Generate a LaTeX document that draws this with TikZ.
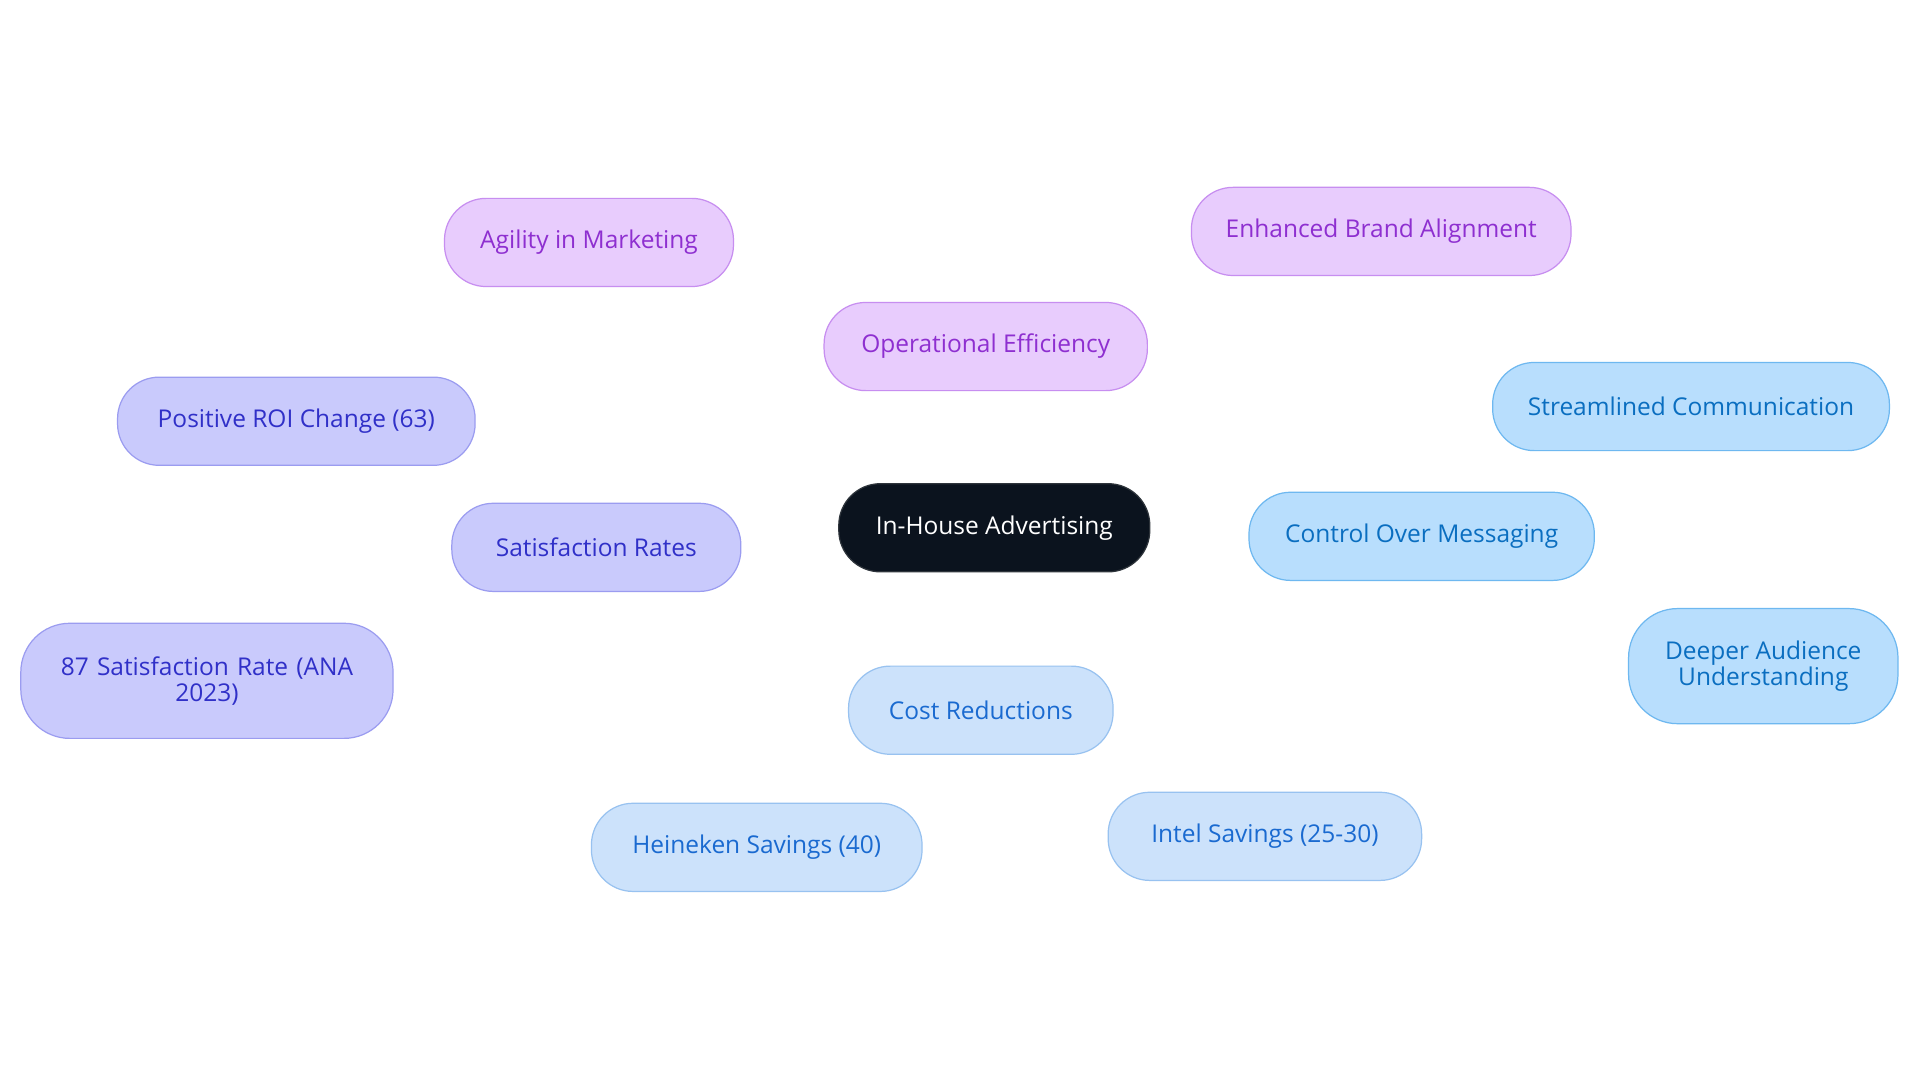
\documentclass[tikz,border=0pt]{standalone}
\usepackage{fontspec}
\setmainfont{Open Sans}
\usetikzlibrary{backgrounds}
\definecolor{rootf}{HTML}{0B131E}
\definecolor{pf}{HTML}{E8CCFD}\definecolor{pd}{HTML}{C78EF0}\definecolor{pt}{HTML}{8E2FD0}
\definecolor{vf}{HTML}{C9CAFC}\definecolor{vd}{HTML}{9B9CF0}\definecolor{vt}{HTML}{3030C8}
\definecolor{bf}{HTML}{B8DEFD}\definecolor{bd}{HTML}{6EB8F0}\definecolor{bt}{HTML}{0A6EC0}
\definecolor{lf}{HTML}{CCE2FB}\definecolor{ld}{HTML}{98C2F0}\definecolor{lt}{HTML}{1A6AD0}
\tikzset{
 box/.style={rounded corners=17pt,minimum height=36pt,font=\fontsize{10}{10.5}\selectfont,align=center,inner sep=2pt,line width=0.5pt},
 rootbox/.style={box,fill=rootf,draw=rootf!70!gray,text=white},
 pbox/.style={box,fill=pf,draw=pd,text=pt},
 vbox/.style={box,fill=vf,draw=vd,text=vt},
 bbox/.style={box,fill=bf,draw=bd,text=bt},
 lbox/.style={box,fill=lf,draw=ld,text=lt},
 edge/.style={line width=1.3pt}
}
\begin{document}
\begin{tikzpicture}[x=0.5pt,y=-0.5pt]
\useasboundingbox[fill=white] (0,0) rectangle (1568,884);
\node[rootbox,minimum width=127pt] (root) at (812,431) {In-House Advertising};
\node[pbox,minimum width=132pt] (op) at (805,283) {Operational Efficiency};
\node[pbox,minimum width=118pt] (ag) at (481,198) {Agility in Marketing};
\node[pbox,minimum width=155pt] (en) at (1128,189) {Enhanced Brand Alignment};
\node[vbox,minimum width=118pt] (sat) at (487,447) {Satisfaction Rates};
\node[vbox,minimum width=146pt] (roi) at (242,344) {Positive ROI Change (63)};
\node[vbox,minimum width=152pt,minimum height=47pt,text width=140pt,rounded corners=20pt] (ana) at (169,556) {87 Satisfaction Rate (ANA\\2023)};
\node[bbox,minimum width=141pt] (ctl) at (1161,438) {Control Over Messaging};
\node[bbox,minimum width=162pt] (str) at (1381,332) {Streamlined Communication};
\node[bbox,minimum width=110pt,minimum height=47pt,rounded corners=20pt] (dee) at (1440,544) {Deeper Audience\\Understanding};
\node[lbox,minimum width=108pt] (cost) at (801,580) {Cost Reductions};
\node[lbox,minimum width=135pt] (hei) at (618,692) {Heineken Savings (40)};
\node[lbox,minimum width=128pt] (int) at (1033,683) {Intel Savings (25-30)};
\begin{scope}[on background layer]
\draw[edge,pd] (root.center) -- (op.center);
\draw[edge,pd] (op.center) -- (ag.center);
\draw[edge,pd] (op.center) -- (en.center);
\draw[edge,vd] (root.center) -- (sat.center);
\draw[edge,vd] (sat.center) -- (roi.center);
\draw[edge,vd] (sat.center) -- (ana.center);
\draw[edge,bd] (root.center) -- (ctl.center);
\draw[edge,bd] (ctl.center) -- (str.center);
\draw[edge,bd] (ctl.center) -- (dee.center);
\draw[edge,ld] (root.center) -- (cost.center);
\draw[edge,ld] (cost.center) -- (hei.center);
\draw[edge,ld] (cost.center) -- (int.center);
\end{scope}
\end{tikzpicture}
\end{document}
